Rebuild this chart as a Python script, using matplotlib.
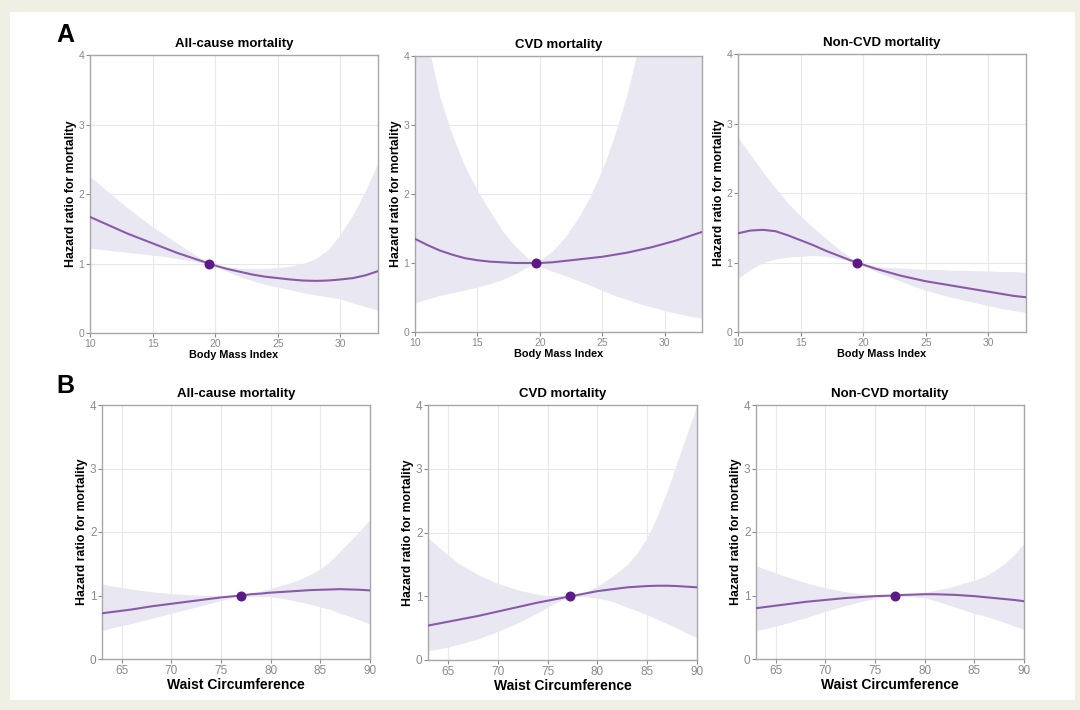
import numpy as np
import matplotlib.pyplot as plt
from matplotlib.patches import Rectangle

plt.rcParams['font.family'] = ['Liberation Sans', 'DejaVu Sans']

# -----------------------------
# Data
# -----------------------------
titles = ["All-cause mortality", "CVD mortality", "Non-CVD mortality"]

# Row A: Body Mass Index
bmi_x = [10, 11, 12, 13, 14, 15, 16, 17, 18, 19, 19.5, 20, 21, 22, 23, 24, 25, 26, 27, 28, 29, 30, 31, 32, 33]

bmi_all_hr = [1.67, 1.59, 1.51, 1.43, 1.36, 1.29, 1.22, 1.15, 1.09, 1.03, 1.0, 0.97, 0.92, 0.88, 0.84, 0.81, 0.79, 0.77, 0.755, 0.75, 0.755, 0.77, 0.79, 0.83, 0.89]
bmi_all_lo = [1.22, 1.2, 1.18, 1.16, 1.14, 1.12, 1.1, 1.07, 1.04, 1.01, 1.0, 0.96, 0.88, 0.81, 0.75, 0.7, 0.66, 0.62, 0.58, 0.55, 0.52, 0.49, 0.43, 0.38, 0.33]
bmi_all_hi = [2.25, 2.1, 1.95, 1.8, 1.66, 1.53, 1.41, 1.29, 1.17, 1.06, 1.0, 0.97, 0.95, 0.93, 0.93, 0.93, 0.94, 0.96, 1.0, 1.07, 1.2, 1.42, 1.7, 2.05, 2.45]

bmi_cvd_hr = [1.35, 1.26, 1.18, 1.12, 1.07, 1.04, 1.02, 1.01, 1.0, 1.0, 1.0, 1.0, 1.01, 1.03, 1.05, 1.07, 1.09, 1.12, 1.15, 1.19, 1.23, 1.28, 1.33, 1.39, 1.45]
bmi_cvd_lo = [0.42, 0.48, 0.53, 0.57, 0.61, 0.65, 0.7, 0.76, 0.84, 0.94, 1.0, 0.95, 0.88, 0.82, 0.75, 0.68, 0.6, 0.53, 0.47, 0.41, 0.36, 0.31, 0.27, 0.23, 0.2]
bmi_cvd_hi = [5.6, 4.2, 3.4, 2.85, 2.4, 2.05, 1.75, 1.47, 1.25, 1.08, 1.0, 1.04, 1.17, 1.37, 1.63, 1.95, 2.35, 2.85, 3.45, 4.2, 5.2, 6.2, 7.4, 8.8, 10.4]

bmi_non_hr = [1.42, 1.46, 1.47, 1.45, 1.39, 1.32, 1.25, 1.17, 1.1, 1.03, 1.0, 0.97, 0.91, 0.86, 0.81, 0.77, 0.73, 0.7, 0.67, 0.64, 0.61, 0.58, 0.55, 0.52, 0.5]
bmi_non_lo = [0.77, 0.9, 1.0, 1.05, 1.08, 1.09, 1.1, 1.09, 1.06, 1.02, 1.0, 0.95, 0.87, 0.8, 0.73, 0.66, 0.6, 0.55, 0.5, 0.46, 0.42, 0.38, 0.34, 0.31, 0.28]
bmi_non_hi = [2.8, 2.55, 2.3, 2.07, 1.85, 1.67, 1.5, 1.35, 1.2, 1.07, 1.0, 0.98, 0.95, 0.93, 0.92, 0.91, 0.9, 0.9, 0.89, 0.89, 0.88, 0.88, 0.87, 0.87, 0.86]

bmi_ref = [19.5, 19.7, 19.5]

# Row B: Waist Circumference
wc_x = [63, 64, 66, 68, 70, 72, 74, 75, 76, 77, 78, 79, 80, 81, 82, 83, 84, 85, 86, 87, 88, 89, 90]

wc_all_hr = [0.72, 0.74, 0.78, 0.83, 0.87, 0.91, 0.95, 0.97, 0.985, 1.0, 1.02, 1.03, 1.045, 1.055, 1.065, 1.075, 1.085, 1.09, 1.095, 1.1, 1.095, 1.09, 1.08]
wc_all_lo = [0.45, 0.49, 0.56, 0.64, 0.72, 0.8, 0.88, 0.92, 0.96, 1.0, 1.0, 0.99, 0.98, 0.96, 0.93, 0.9, 0.86, 0.82, 0.78, 0.72, 0.67, 0.61, 0.55]
wc_all_hi = [1.18, 1.15, 1.1, 1.06, 1.03, 1.01, 1.0, 1.0, 1.0, 1.0, 1.04, 1.07, 1.11, 1.16, 1.2, 1.26, 1.33, 1.42, 1.54, 1.7, 1.86, 2.02, 2.2]

wc_cvd_hr = [0.54, 0.57, 0.63, 0.69, 0.76, 0.83, 0.9, 0.93, 0.96, 0.99, 1.02, 1.05, 1.08, 1.1, 1.12, 1.14, 1.15, 1.16, 1.165, 1.165, 1.16, 1.15, 1.14]
wc_cvd_lo = [0.15, 0.17, 0.24, 0.33, 0.45, 0.58, 0.74, 0.83, 0.91, 0.98, 1.0, 0.99, 0.97, 0.94, 0.89, 0.83, 0.77, 0.71, 0.64, 0.57, 0.5, 0.42, 0.35]
wc_cvd_hi = [1.92, 1.78, 1.52, 1.34, 1.2, 1.1, 1.03, 1.01, 1.0, 1.0, 1.03, 1.08, 1.16, 1.26, 1.37, 1.5, 1.68, 1.92, 2.25, 2.65, 3.1, 3.55, 4.0]

wc_non_hr = [0.8, 0.82, 0.86, 0.9, 0.93, 0.96, 0.98, 0.99, 0.995, 1.0, 1.01, 1.015, 1.02, 1.02, 1.015, 1.01, 1.0, 0.99, 0.975, 0.96, 0.945, 0.93, 0.91]
wc_non_lo = [0.45, 0.48, 0.56, 0.65, 0.75, 0.84, 0.92, 0.95, 0.98, 1.0, 0.99, 0.98, 0.96, 0.92, 0.87, 0.82, 0.77, 0.72, 0.68, 0.63, 0.58, 0.52, 0.47]
wc_non_hi = [1.47, 1.41, 1.3, 1.2, 1.12, 1.06, 1.02, 1.01, 1.0, 1.0, 1.02, 1.03, 1.05, 1.08, 1.11, 1.15, 1.2, 1.24, 1.3, 1.39, 1.5, 1.64, 1.82]

wc_ref = [77.0, 77.3, 77.0]

# -----------------------------
# Style
# -----------------------------
line_col = "#8a5aaa"
dot_col = "#5c1a88"
band_col = "#e9e7f2"
grid_col = "#e8e8e8"
spine_col = "#a8a8a8"
tick_col = "#8a8a8a"

W, H = 1080, 710
fig = plt.figure(figsize=(W / 100, H / 100), dpi=100, facecolor="#efefe4")
fig.patches.append(Rectangle((10 / W, 1 - 700 / H), 1065 / W, 688 / H,
                             transform=fig.transFigure, facecolor="white",
                             edgecolor="none", zorder=-10))


def px_axes(x0, y0, x1, y1):
    return fig.add_axes([x0 / W, 1 - y1 / H, (x1 - x0) / W, (y1 - y0) / H])


def draw_panel(ax, x, hr, lo, hi, ref, title, xlabel, xlim, xticks, big):
    ax.fill_between(x, lo, hi, color=band_col, lw=0, zorder=1)
    ax.plot(x, hr, color=line_col, lw=1.5, zorder=3)
    ax.scatter([ref], [1.0], s=38, color=dot_col, zorder=4)
    ax.set_xlim(*xlim)
    ax.set_ylim(0, 4)
    ax.set_xticks(xticks)
    ax.set_yticks([0, 1, 2, 3, 4])
    ax.grid(True, color=grid_col, lw=0.8, zorder=0)
    ax.set_axisbelow(True)
    for s in ax.spines.values():
        s.set_color(spine_col)
        s.set_linewidth(1.0)
    ax.tick_params(colors=tick_col, length=3, width=0.8,
                   labelsize=8.5 if big else 7.5, pad=1)
    ax.set_title(title, fontsize=9.5, fontweight="bold", pad=6)
    ax.set_xlabel(xlabel, fontsize=10 if big else 7.8, fontweight="bold", labelpad=1)
    ax.set_ylabel("Hazard ratio for mortality", fontsize=8.8 if big else 8.8,
                  fontweight="bold", labelpad=1)


row_a = [(bmi_all_hr, bmi_all_lo, bmi_all_hi),
         (bmi_cvd_hr, bmi_cvd_lo, bmi_cvd_hi),
         (bmi_non_hr, bmi_non_lo, bmi_non_hi)]
row_b = [(wc_all_hr, wc_all_lo, wc_all_hi),
         (wc_cvd_hr, wc_cvd_lo, wc_cvd_hi),
         (wc_non_hr, wc_non_lo, wc_non_hi)]

boxes_a = [(90, 55, 378, 333), (415, 56, 702, 332), (738, 54, 1026, 332)]
boxes_b = [(102, 405, 370, 659), (428, 405, 697, 660), (756, 405, 1024, 659)]

for i in range(3):
    ax = px_axes(*boxes_a[i])
    hr, lo, hi = row_a[i]
    draw_panel(ax, bmi_x, hr, lo, hi, bmi_ref[i], titles[i], "Body Mass Index",
               (10, 33), [10, 15, 20, 25, 30], False)
    ax = px_axes(*boxes_b[i])
    hr, lo, hi = row_b[i]
    draw_panel(ax, wc_x, hr, lo, hi, wc_ref[i], titles[i], "Waist Circumference",
               (63, 90), [65, 70, 75, 80, 85, 90], True)

fig.text(56 / W, 1 - 35 / H, "A", fontsize=18, fontweight="bold", va="center")
fig.text(56 / W, 1 - 386 / H, "B", fontsize=18, fontweight="bold", va="center")

fig.savefig("out.png", dpi=100, facecolor=fig.get_facecolor())
